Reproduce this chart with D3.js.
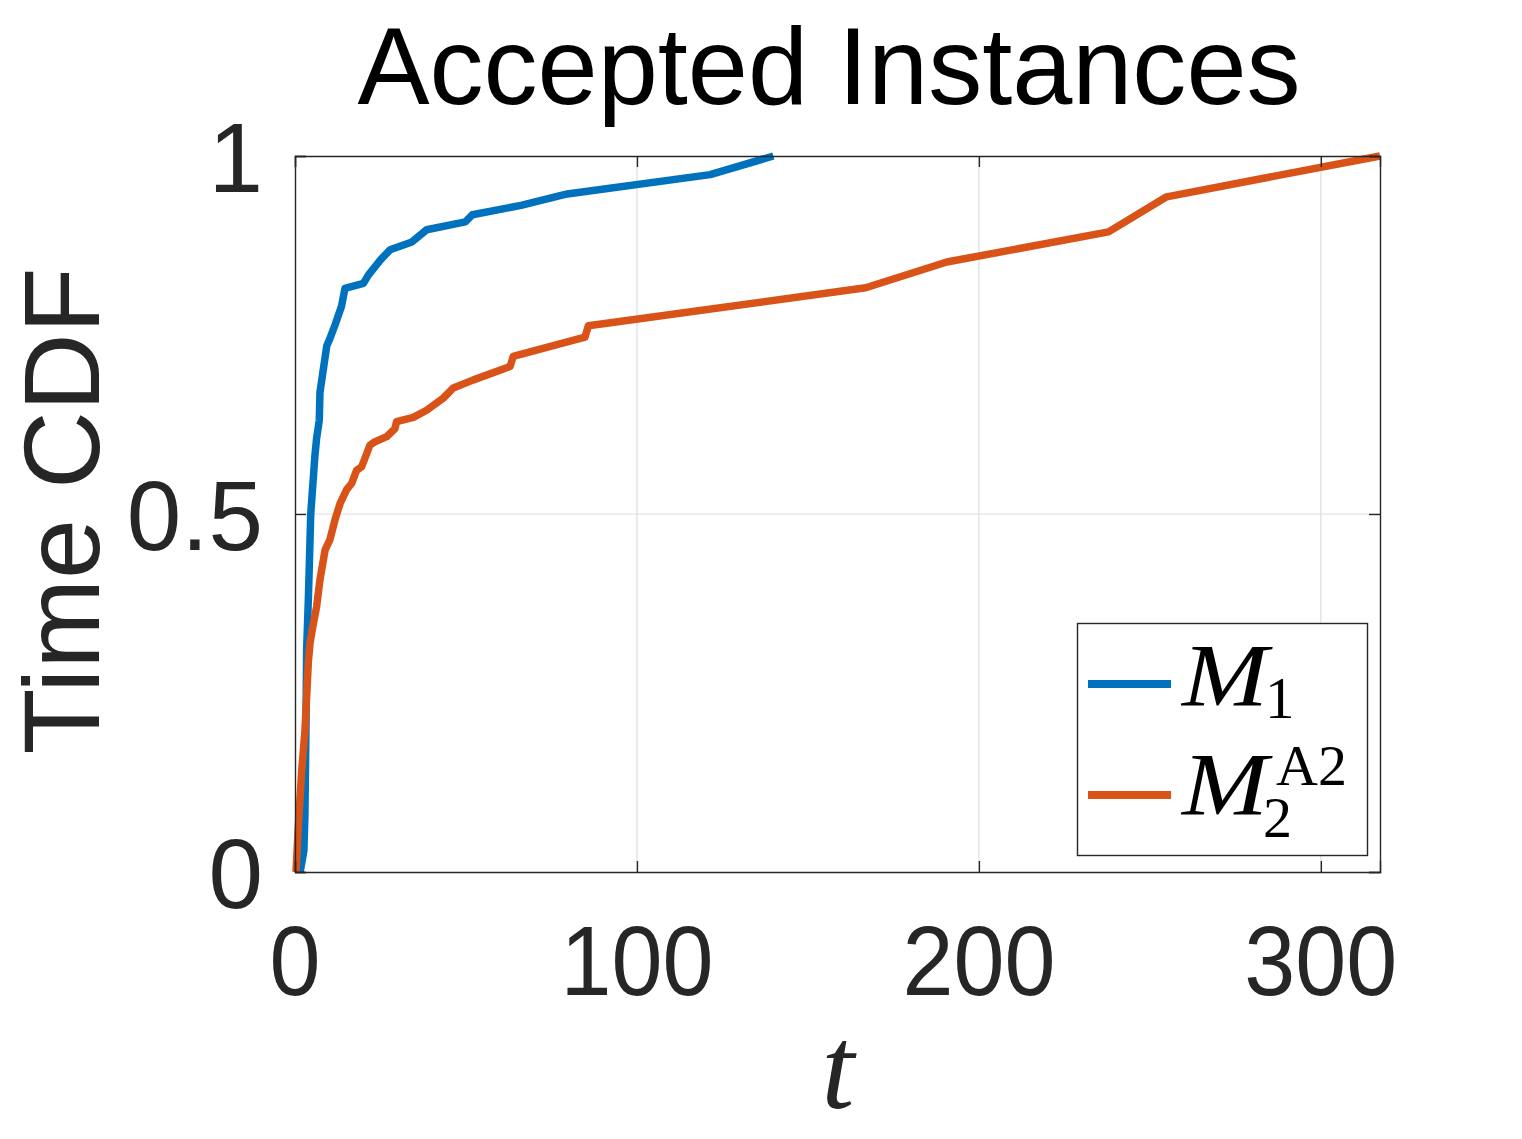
<!DOCTYPE html>
<html>
<head>
<meta charset="utf-8">
<script src="https://cdn.jsdelivr.net/npm/d3@7"></script>
<style>
  html, body { margin: 0; padding: 0; background: #ffffff; }
  svg { display: block; }
</style>
</head>
<body>
<svg id="chart" width="1522" height="1139"></svg>
<script>
// ---------- data ----------
const titleText = "Accepted Instances";
const yLabelText = "Time CDF";
const xLabelText = "t";

const xTicks = [0, 100, 200, 300];
const yTicks = [0, 0.5, 1];
const yTickLabels = ["0", "0.5", "1"];

const m1Time = [1.5, 2.6, 2.9, 3.2, 3.4, 3.9, 4.6, 5.4, 5.8, 6.3, 7.1, 7.3, 8.1, 8.8, 9.3, 10.2, 11.7, 13.6, 14.6, 20.0, 21.5, 25.0, 27.8, 34.2, 38.5, 49.8, 51.9, 66.1, 79.6, 121.4, 139.9];
const m1Cdf  = [0.0, 0.03, 0.08, 0.2, 0.31, 0.38, 0.5, 0.553, 0.58, 0.605, 0.631, 0.67, 0.696, 0.719, 0.735, 0.745, 0.764, 0.79, 0.815, 0.822, 0.834, 0.855, 0.869, 0.88, 0.897, 0.908, 0.918, 0.931, 0.947, 0.974, 1.0];

const m2Time = [0.3, 1.0, 2.0, 2.9, 3.9, 4.4, 5.3, 6.3, 7.3, 8.8, 10.2, 11.7, 13.2, 15.1, 16.6, 18.0, 19.5, 21.9, 23.4, 26.8, 29.2, 29.7, 34.6, 38.5, 43.4, 46.3, 52.0, 62.9, 63.8, 84.8, 85.8, 166.9, 190.6, 237.9, 254.9, 317.3];
const m2Cdf  = [0.0, 0.066, 0.144, 0.196, 0.293, 0.32, 0.345, 0.37, 0.408, 0.45, 0.464, 0.492, 0.515, 0.534, 0.543, 0.561, 0.566, 0.596, 0.601, 0.608, 0.619, 0.629, 0.635, 0.645, 0.662, 0.676, 0.687, 0.706, 0.72, 0.747, 0.763, 0.816, 0.852, 0.894, 0.943, 1.0];

const seriesNames = ["M1", "M2A2"];
const seriesColors = ["#0072BD", "#D95319"];

// ---------- layout ----------
const svg = d3.select("#chart");
svg.append("rect").attr("width", 1522).attr("height", 1139).attr("fill", "#ffffff");

const plotL = 295, plotR = 1380, plotT = 156, plotB = 872;
const x = d3.scaleLinear().domain([0, d3.max(m2Time)]).range([plotL, plotR]);
const y = d3.scaleLinear().domain([0, 1]).range([plotB, plotT]);

const sansFont = "'Liberation Sans', Arial, Helvetica, sans-serif";
const serifFont = "'Liberation Serif', 'Times New Roman', serif";
const textColor = "#262626";

// grid
const grid = svg.append("g");
grid.selectAll("line.gx").data(xTicks.filter(d => d > 0)).enter().append("line")
  .attr("x1", d => x(d)).attr("x2", d => x(d)).attr("y1", plotT).attr("y2", plotB)
  .attr("stroke", "#dedede").attr("stroke-width", 1.2);
grid.selectAll("line.gy").data(yTicks.filter(d => d > 0 && d < 1)).enter().append("line")
  .attr("x1", plotL).attr("x2", plotR).attr("y1", d => y(d)).attr("y2", d => y(d))
  .attr("stroke", "#dedede").attr("stroke-width", 1.2);

// lines
const lineGen = d3.line().x(d => x(d[0])).y(d => y(d[1]));
const series = [
  d3.zip(m1Time, m1Cdf),
  d3.zip(m2Time, m2Cdf)
];
svg.append("g").selectAll("path").data(series).enter().append("path")
  .attr("d", lineGen)
  .attr("fill", "none")
  .attr("stroke", (d, i) => seriesColors[i])
  .attr("stroke-width", 7.5)
  .attr("stroke-linejoin", "round")
  .attr("stroke-linecap", "butt");

// axes (box with inward ticks on all sides)
const tickLen = 11;
const xAxisB = d3.axisBottom(x).tickValues(xTicks).tickSize(-tickLen).tickFormat("");
const xAxisT = d3.axisTop(x).tickValues(xTicks).tickSize(-tickLen).tickFormat("");
const yAxisL = d3.axisLeft(y).tickValues(yTicks).tickSize(-tickLen).tickFormat("");
const yAxisR = d3.axisRight(y).tickValues(yTicks).tickSize(-tickLen).tickFormat("");
function styleAxis(g) {
  g.selectAll("path.domain").attr("stroke", textColor).attr("stroke-width", 1.4);
  g.selectAll(".tick line").attr("stroke", textColor).attr("stroke-width", 1.4);
}
svg.append("g").attr("transform", `translate(0,${plotB})`).call(xAxisB).call(styleAxis);
svg.append("g").attr("transform", `translate(0,${plotT})`).call(xAxisT).call(styleAxis);
svg.append("g").attr("transform", `translate(${plotL},0)`).call(yAxisL).call(styleAxis);
svg.append("g").attr("transform", `translate(${plotR},0)`).call(yAxisR).call(styleAxis);

// tick labels
svg.append("g").selectAll("text").data(xTicks).enter().append("text")
  .attr("x", d => x(d)).attr("y", 995)
  .attr("text-anchor", "middle")
  .attr("font-family", sansFont).attr("font-size", 98)
  .attr("fill", textColor)
  .attr("textLength", d => String(d).length * 51)
  .attr("lengthAdjust", "spacingAndGlyphs")
  .text(d => d);

svg.append("g").selectAll("text").data(yTicks).enter().append("text")
  .attr("x", 263).attr("y", d => y(d) + 36)
  .attr("text-anchor", "end")
  .attr("font-family", sansFont).attr("font-size", 98)
  .attr("fill", textColor)
  .text((d, i) => yTickLabels[i]);

// title
svg.append("text")
  .attr("x", 829).attr("y", 104)
  .attr("text-anchor", "middle")
  .attr("font-family", sansFont).attr("font-size", 110)
  .attr("fill", "#000000")
  .attr("textLength", 943).attr("lengthAdjust", "spacingAndGlyphs")
  .text(titleText);

// y label
svg.append("text")
  .attr("transform", "translate(99,511) rotate(-90)")
  .attr("text-anchor", "middle")
  .attr("font-family", sansFont).attr("font-size", 108)
  .attr("fill", textColor)
  .attr("textLength", 487).attr("lengthAdjust", "spacingAndGlyphs")
  .text(yLabelText);

// x label
svg.append("text")
  .attr("x", 838).attr("y", 1108)
  .attr("text-anchor", "middle")
  .attr("font-family", serifFont).attr("font-style", "italic").attr("font-size", 118)
  .attr("fill", textColor)
  .text(xLabelText);

// legend
const lg = svg.append("g");
lg.append("rect")
  .attr("x", 1077.5).attr("y", 623.5).attr("width", 290).attr("height", 232)
  .attr("fill", "#ffffff").attr("stroke", textColor).attr("stroke-width", 1.4);
const legendY = [684, 795];
lg.selectAll("line").data(seriesNames).enter().append("line")
  .attr("x1", 1088).attr("x2", 1171)
  .attr("y1", (d, i) => legendY[i]).attr("y2", (d, i) => legendY[i])
  .attr("stroke", (d, i) => seriesColors[i]).attr("stroke-width", 8);

function mathM(xp, base) {
  lg.append("text").attr("x", xp).attr("y", base)
    .attr("font-family", serifFont).attr("font-style", "italic").attr("font-size", 88)
    .attr("fill", "#000000")
    .attr("textLength", 86).attr("lengthAdjust", "spacingAndGlyphs")
    .text("M");
}
function roman(xp, base, s, size) {
  lg.append("text").attr("x", xp).attr("y", base)
    .attr("font-family", serifFont).attr("font-size", size)
    .attr("fill", "#000000")
    .text(s);
}
mathM(1182, 705);
roman(1265, 718, "1", 59);
mathM(1182, 814);
roman(1263, 837, "2", 58);
roman(1276, 785, "A2", 58);
</script>
</body>
</html>
